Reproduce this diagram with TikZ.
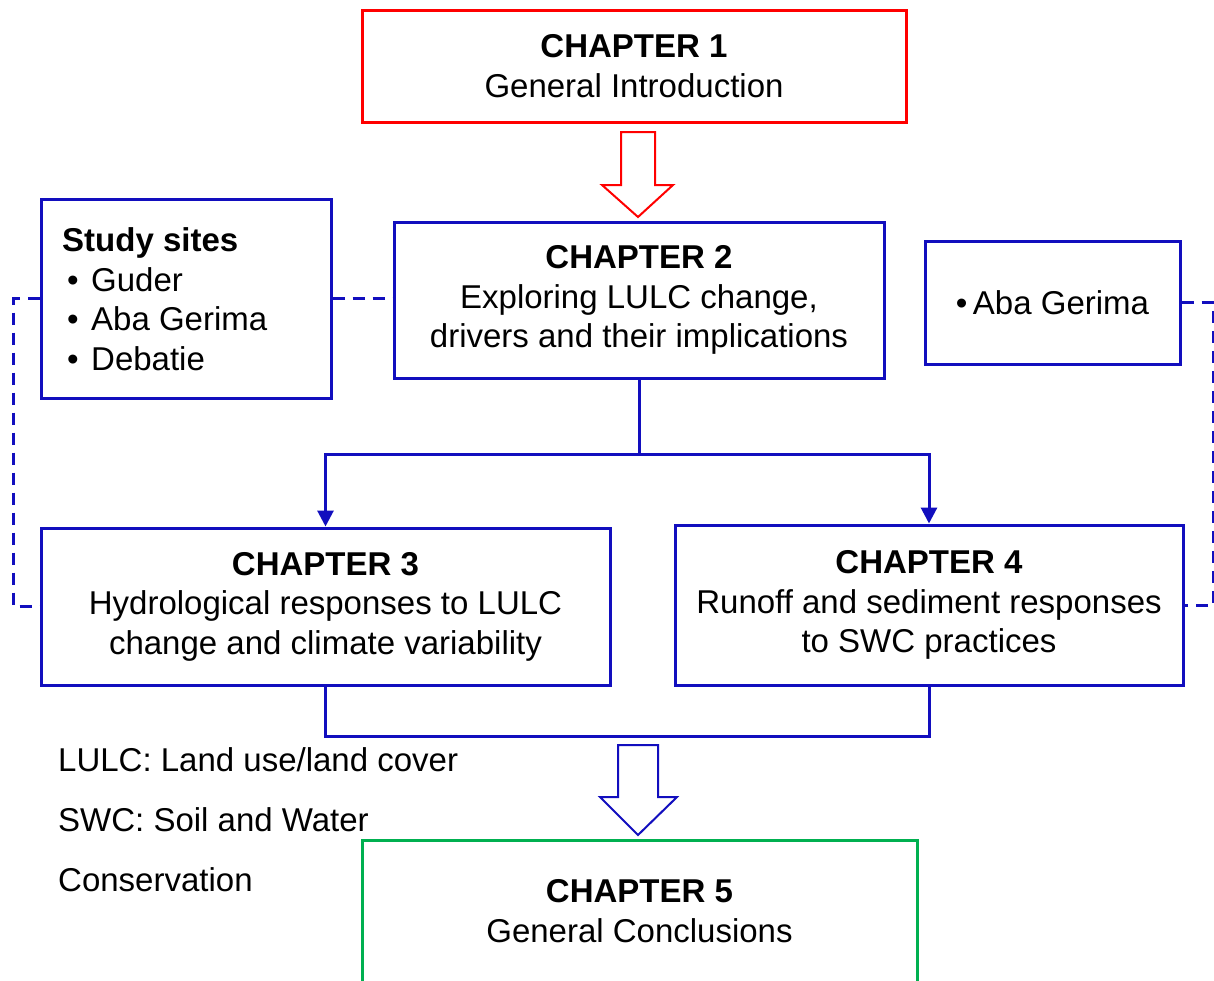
\documentclass[tikz,border=0pt]{standalone}
\usepackage{fontspec}
\setmainfont{Liberation Sans}
\usetikzlibrary{arrows.meta,calc}
\definecolor{cred}{RGB}{255,0,0}
\definecolor{cblue}{RGB}{18,14,190}
\definecolor{cgreen}{RGB}{0,176,80}
\tikzset{
  box/.style={draw, line width=3pt, rectangle, align=center, inner sep=0pt,
    font=\fontsize{33pt}{39.5pt}\selectfont, text=black},
  txt/.style={font=\fontsize{33pt}{39.5pt}\selectfont, inner sep=0pt, text=black},
  conn/.style={draw=cblue, line width=3pt},
  dconn/.style={draw=cblue, line width=3pt, dash pattern=on 12pt off 8pt},
  tip/.style={-{Triangle[width=16pt,length=16pt]}},
  hollow/.style={line width=2pt, fill=white, line join=miter},
}
\begin{document}
\begin{tikzpicture}[x=1pt,y=-1pt]
\useasboundingbox (0,0) rectangle (1214,980);
\clip (0,0) rectangle (1214,980);
\fill[white] (0,0) rectangle (1214,980);

\node[box, draw=cred, minimum width=544pt, minimum height=112pt] (ch1) at (634,66)
  {\textbf{CHAPTER 1}\\General Introduction};
\node[box, draw=cblue, minimum width=490pt, minimum height=156pt] (ch2) at (639,300)
  {\textbf{CHAPTER 2}\\Exploring LULC change,\\drivers and their implications};
\node[box, draw=cblue, minimum width=290pt, minimum height=199pt] (study) at (186,298.5) {};
\node[txt, anchor=west, align=left] (studytxt) at (62,299)
  {\textbf{Study sites}\\
   \makebox[29pt][l]{\hspace{5pt}•}Guder\\
   \makebox[29pt][l]{\hspace{5pt}•}Aba Gerima\\
   \makebox[29pt][l]{\hspace{5pt}•}Debatie};
\node[box, draw=cblue, minimum width=255pt, minimum height=123pt] (aba) at (1052.5,302.5)
  {•\,Aba Gerima};
\node[box, draw=cblue, minimum width=569pt, minimum height=157pt] (ch3) at (325.5,606.5)
  {\textbf{CHAPTER 3}\\Hydrological responses to LULC\\change and climate variability};
\node[box, draw=cblue, minimum width=508pt, minimum height=160pt] (ch4) at (929,605)
  {\textbf{CHAPTER 4}\\Runoff and sediment responses\\to SWC practices};
\node[box, draw=cgreen, minimum width=555pt, minimum height=142pt] (ch5) at (639.5,911)
  {\textbf{CHAPTER 5}\\General Conclusions};

\node[txt, anchor=west] (leg1) at (58,760) {LULC: Land use/land cover};
\node[txt, anchor=west] (leg2) at (58,820) {SWC: Soil and Water};
\node[txt, anchor=west] (leg3) at (58,880) {Conservation};

% hollow arrows
\draw[hollow, draw=cred] (621,132) -- (655,132) -- (655,185) -- (673,185) -- (638,217)
  -- (602,185) -- (621,185) -- cycle;
\draw[hollow, draw=cblue] (618,745) -- (658,745) -- (658,797) -- (677,797) -- (638,835)
  -- (600,797) -- (618,797) -- cycle;

% connectors
\coordinate (j) at ($(ch2.south)+(0,75)$);
\draw[conn] (ch2.south) -- (j);
\draw[conn, tip] (j) -| (ch3.north);
\draw[conn, tip] (j) -| (ch4.north);
\coordinate (b) at ($(ch3.south)+(0,50)$);
\draw[conn] (ch3.south) -- (b) -| (ch4.south);

% dashed links
\draw[dconn] (study.east) -- (ch2.west |- study.east);
\coordinate (lL) at ($(study.west)+(-26,0)$);
\draw[dconn] (study.west) -- (lL) |- (ch3.west);
\coordinate (rR) at ($(aba.east)+(32,0)$);
\draw[dconn] (aba.east) -- (rR) |- (ch4.east);
\end{tikzpicture}
\end{document}
